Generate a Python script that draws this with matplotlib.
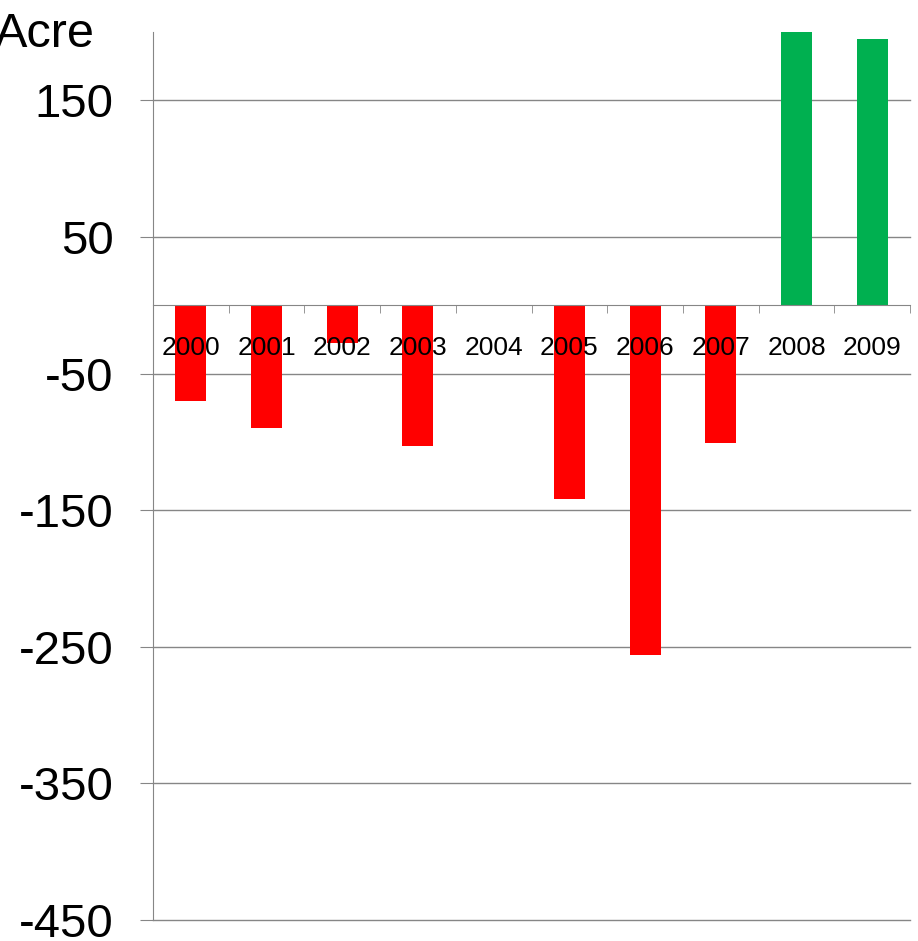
import matplotlib
matplotlib.use("Agg")
from matplotlib import pyplot as plt
import numpy as np

years = ["2000", "2001", "2002", "2003", "2004", "2005", "2006", "2007", "2008", "2009"]
change = [-70, -90, -28, -103, 0, -142, -256, -101, 200, 195]
y_ticks = [150, 50, -50, -150, -250, -350, -450]

plt.rcParams["font.family"] = ["Liberation Sans", "DejaVu Sans"]

W, H = 918, 941
fig = plt.figure(figsize=(W / 100, H / 100), dpi=100)
ax = fig.add_axes([153 / W, 21 / H, (910 - 153) / W, (920 - 32) / H])

grey = "#868686"
x = np.arange(len(years))
colors = ["#00B050" if v > 0 else "#FF0000" for v in change]
ax.bar(x, change, width=0.41, color=colors, zorder=1)

for v in y_ticks:
    ax.axhline(v, color=grey, lw=1, zorder=0.5, clip_on=False)

ax.set_xlim(-0.5, len(years) - 0.5)
ax.set_ylim(-450, 200)

# horizontal axis runs through zero, labels under it
for side in ["top", "right"]:
    ax.spines[side].set_visible(False)
ax.spines["bottom"].set_position(("data", 0))
ax.spines["bottom"].set_color(grey)
ax.spines["left"].set_color(grey)
ax.spines["bottom"].set_zorder(2)

ax.set_xticks(x)
ax.set_xticklabels(years, fontsize=19)
ax.set_xticks(np.arange(len(years) + 1) - 0.5, minor=True)
ax.tick_params(axis="x", which="major", length=0, pad=22)
ax.tick_params(axis="x", which="minor", length=6, color=grey, direction="out")

ax.set_yticks(y_ticks)
ax.set_yticklabels([str(v) for v in y_ticks], fontsize=34)
ax.tick_params(axis="y", length=9.5, color=grey, pad=19)

fig.text(-5 / W, 1 - 47 / H, "Acre", fontsize=35, ha="left", va="baseline")

fig.savefig("out.png", dpi=100)
plt.close(fig)
